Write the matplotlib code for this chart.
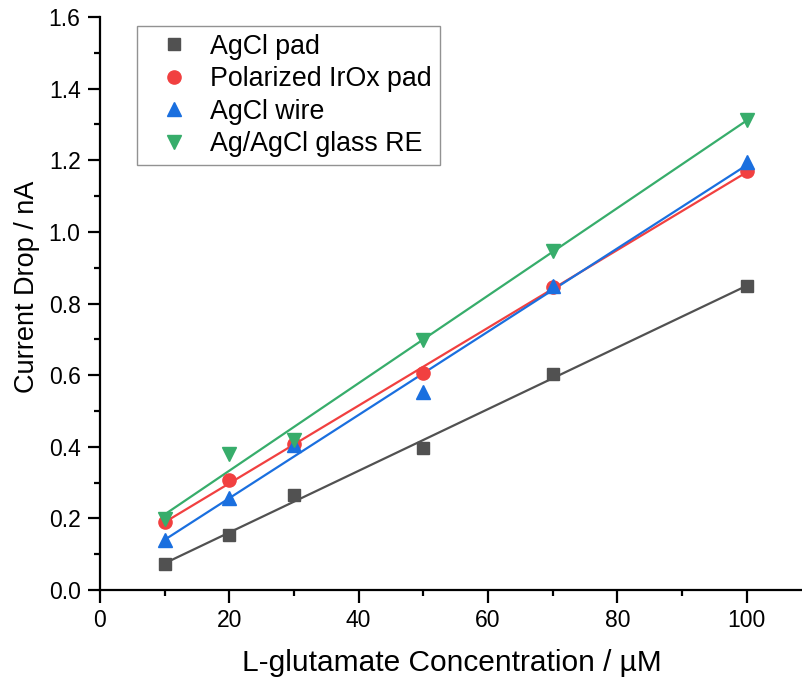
import numpy as np
import matplotlib
matplotlib.use("Agg")
import matplotlib.pyplot as plt
from matplotlib.ticker import MultipleLocator, FormatStrFormatter

plt.rcParams['font.family'] = ['Liberation Sans', 'DejaVu Sans']

# L-glutamate concentration (µM)
conc = [10, 20, 30, 50, 70, 100]

# Current drop (nA) for each reference electrode
agcl_pad = [0.073, 0.155, 0.266, 0.397, 0.603, 0.848]
irox_pad = [0.189, 0.306, 0.408, 0.606, 0.846, 1.170]
agcl_wire = [0.140, 0.256, 0.405, 0.554, 0.850, 1.194]
glass_re = [0.199, 0.379, 0.419, 0.697, 0.948, 1.313]

labels = ["AgCl pad", "Polarized IrOx pad", "AgCl wire", "Ag/AgCl glass RE"]
colors = ["#515151", "#F14040", "#1A6FDF", "#37AD6B"]
markers = ["s", "o", "^", "v"]
sizes = [8.5, 9.5, 10, 10]

fig = plt.figure(figsize=(8.03, 6.81), dpi=100)
ax = fig.add_axes([0.1245, 0.1336, 0.8755, 0.8414])

x = np.array(conc, dtype=float)
for y, lab, c, m, s in zip([agcl_pad, irox_pad, agcl_wire, glass_re],
                           labels, colors, markers, sizes):
    y = np.array(y)
    slope, icpt = np.polyfit(x, y, 1)
    xf = np.array([x.min(), x.max()])
    ax.plot(xf, slope * xf + icpt, color=c, lw=1.6, zorder=2)
    ax.plot(x, y, ls="none", marker=m, ms=s, color=c, mec=c, label=lab, zorder=3)

ax.set_xlim(0, 108.7)
ax.set_ylim(0, 1.6)
ax.xaxis.set_major_locator(MultipleLocator(20))
ax.xaxis.set_minor_locator(MultipleLocator(10))
ax.yaxis.set_major_locator(MultipleLocator(0.2))
ax.yaxis.set_minor_locator(MultipleLocator(0.1))
ax.yaxis.set_major_formatter(FormatStrFormatter('%.1f'))

for side in ("top", "right"):
    ax.spines[side].set_visible(False)
for side in ("left", "bottom"):
    ax.spines[side].set_linewidth(1.6)

ax.tick_params(which="major", direction="out", length=9, width=1.6, labelsize=16.5, pad=5)
ax.tick_params(which="minor", direction="out", length=4.5, width=1.6)

ax.set_xlabel("L-glutamate Concentration / µM", fontsize=21.5, labelpad=12)
ax.set_ylabel("Current Drop / nA", fontsize=19.5)
ax.yaxis.set_label_coords(-0.085, 0.53)

leg = ax.legend(loc="upper left", bbox_to_anchor=(0.052, 0.985), fontsize=19.3,
                frameon=True, fancybox=False, edgecolor="#777777",
                handletextpad=0.25, labelspacing=0.24, borderpad=0.3,
                handlelength=2.2, borderaxespad=0.0)
leg.get_frame().set_linewidth(1.0)

fig.savefig("out.png", dpi=100)
